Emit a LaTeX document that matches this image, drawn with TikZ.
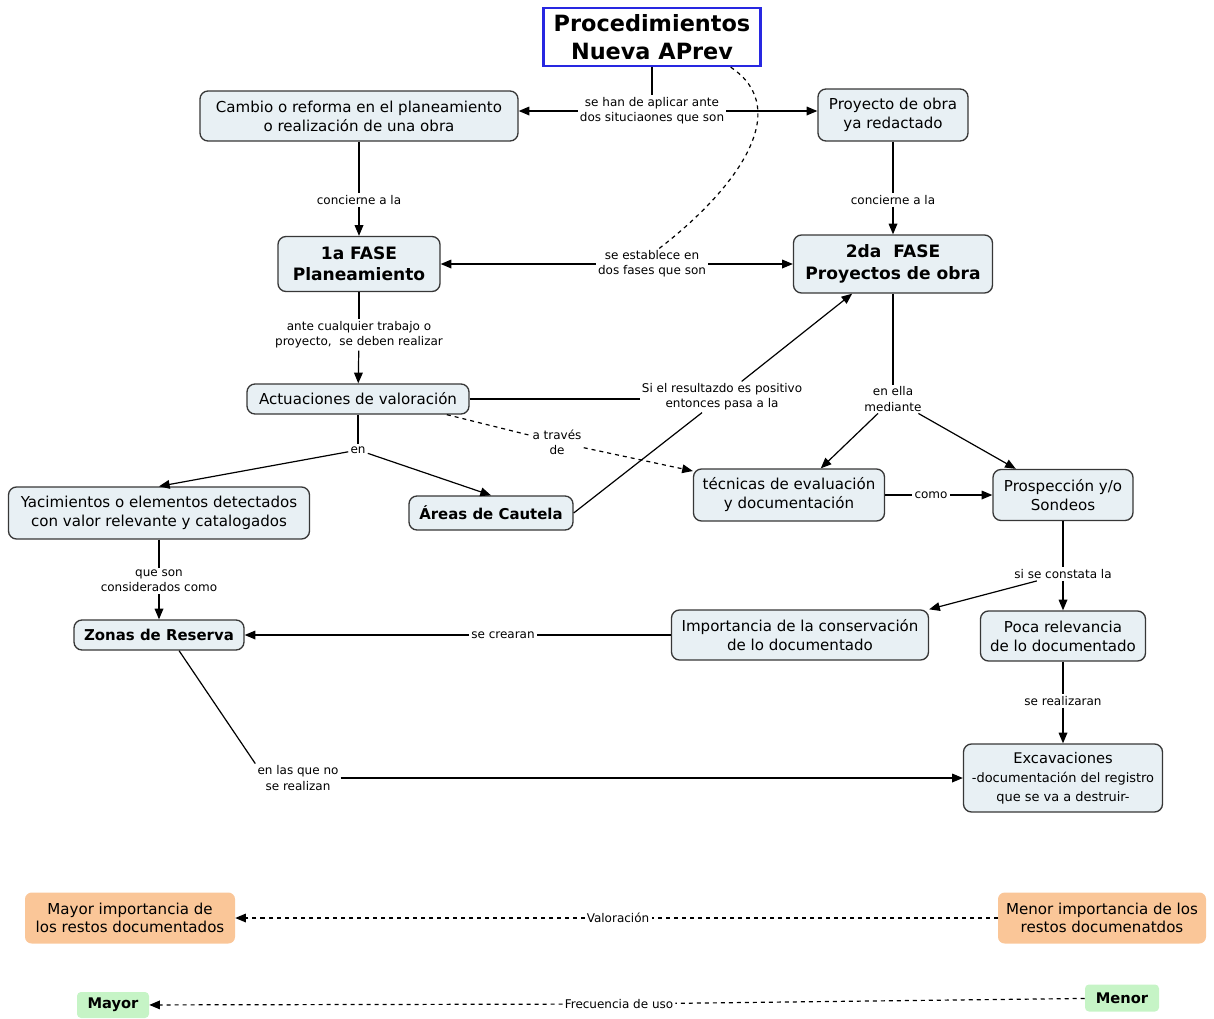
\documentclass[tikz,border=0pt]{standalone}
\usepackage{fontspec}
\setmainfont{DejaVu Sans}
\usepackage{tikz}
\usetikzlibrary{positioning,arrows.meta}

\newlength{\pxu}
\setlength{\pxu}{0.75pt}

\definecolor{conceptfill}{RGB}{232,240,244}
\definecolor{conceptline}{RGB}{55,55,55}
\definecolor{titleblue}{RGB}{40,40,225}
\definecolor{orangefill}{RGB}{250,198,152}
\definecolor{greenfill}{RGB}{198,244,198}

\tikzset{
  concept/.style={rectangle, rounded corners=6pt, draw=conceptline, line width=1pt,
    fill=conceptfill, align=center, inner sep=2pt, font=\fontsize{11.3}{14.3}\selectfont},
  keyconcept/.style={concept, font=\fontsize{12.8}{16}\selectfont\bfseries},
  boldconcept/.style={concept, font=\fontsize{11.2}{14}\selectfont\bfseries},
  linklabel/.style={align=center, inner sep=1.5pt, font=\fontsize{9}{11.3}\selectfont},
  scalebox/.style={rectangle, rounded corners=5pt, fill=orangefill, align=center,
    inner sep=2pt, font=\fontsize{11.3}{14}\selectfont},
  usebox/.style={rectangle, rounded corners=3pt, fill=greenfill, align=center,
    inner sep=2pt, font=\fontsize{11}{14}\selectfont\bfseries}
}

\begin{document}
\begin{tikzpicture}[x=0.75pt, y=-0.75pt, >={Triangle[length=8pt,width=6.5pt]},
  every edge/.append style={line width=0.9pt}]
\useasboundingbox (0,0) rectangle (1214,1018);

% main concepts
\node (title) [rectangle, draw=titleblue, line width=1.8pt, fill=white, align=center,
  minimum width=217\pxu, minimum height=58\pxu, font=\fontsize{16.8}{21.5}\selectfont\bfseries]
  at (652,37) {Procedimientos\\Nueva APrev};
\node (cambio) [concept, minimum width=318\pxu, minimum height=50\pxu] at (359,116)
  {Cambio o reforma en el planeamiento\\o realización de una obra};
\node (proyecto) [concept, minimum width=150\pxu, minimum height=52\pxu] at (893,115)
  {Proyecto de obra\\ya redactado};
\node (fase1) [keyconcept, minimum width=162\pxu, minimum height=55\pxu] at (359,264)
  {1a FASE\\Planeamiento};
\node (fase2) [keyconcept, minimum width=199\pxu, minimum height=58\pxu] at (893,264)
  {2da\ \ FASE\\Proyectos de obra};
\node (actuaciones) [concept, minimum width=222\pxu, minimum height=30\pxu] at (358,399)
  {Actuaciones de valoración};
\node (yacimientos) [concept, minimum width=301\pxu, minimum height=52\pxu] at (159,513)
  {Yacimientos o elementos detectados\\con valor relevante y catalogados};
\node (areas) [boldconcept, minimum width=164\pxu, minimum height=34\pxu] at (491,513)
  {Áreas de Cautela};
\node (tecnicas) [concept, minimum width=191\pxu, minimum height=52\pxu] at (789,495)
  {técnicas de evaluación\\y documentación};
\node (prospeccion) [concept, minimum width=140\pxu, minimum height=51\pxu] at (1063,495)
  {Prospección y/o\\Sondeos};
\node (zonas) [boldconcept, minimum width=170\pxu, minimum height=30\pxu] at (159,635)
  {Zonas de Reserva};
\node (importancia) [concept, minimum width=257\pxu, minimum height=50\pxu] at (800,635)
  {Importancia de la conservación\\de lo documentado};
\node (poca) [concept, minimum width=165\pxu, minimum height=50\pxu] at (1063,636)
  {Poca relevancia\\de lo documentado};
\node (excavaciones) [concept, minimum width=199\pxu, minimum height=68\pxu] at (1063,778)
  {{\fontsize{11}{14}\selectfont Excavaciones}\\{\fontsize{9.7}{13}\selectfont -documentación del registro}\\{\fontsize{9.7}{13}\selectfont que se va a destruir-}};

% linking phrases
\node (L1) [linklabel] at (652,111) {se han de aplicar ante\\dos situciaones que son};
\node (L2) [linklabel] at (359,200) {concierne a la};
\node (L3) [linklabel] at (893,200) {concierne a la};
\node (L4) [linklabel] at (652,264) {se establece en\\dos fases que son};
\node (L5) [linklabel] at (359,335) {ante cualquier trabajo o\\proyecto,\ \ se deben realizar};
\node (L6) [linklabel] at (722,397) {Si el resultazdo es positivo\\entonces pasa a la};
\node (L7) [linklabel] at (358,450) {en};
\node (L8) [linklabel] at (557,442) {a través\\de};
\node (L9) [linklabel] at (893,399) {en ella\\mediante};
\node (L10) [linklabel] at (931,495) {como};
\node (L11) [linklabel] at (1063,574) {si se constata la};
\node (L12) [linklabel] at (503,635) {se crearan};
\node (L13) [linklabel] at (159,581) {que son\\considerados como};
\node (L14) [linklabel] at (1063,701) {se realizaran};
\node (L15) [linklabel] at (298,778) {en las que no\\se realizan};

% connections
\path (title) edge (L1);
\path[->] (L1) edge (cambio.east |- L1);
\path[->] (L1) edge (proyecto.west |- L1);
\path (cambio) edge (L2);
\path[->] (L2) edge (fase1);
\path (proyecto) edge (L3);
\path[->] (L3) edge (fase2);
\draw[dashed, line width=0.9pt] (title.-21) .. controls (795,110) and (735,190) .. (L4.65);
\path[->] (L4) edge (fase1.east);
\path[->] (L4) edge (fase2.west);
\path (fase1) edge (L5);
\path[->] (L5) edge (actuaciones);
\path (actuaciones) edge (L6.west |- actuaciones);
\path (areas.east) edge (L6);
\path[->] (L6) edge (fase2.216);
\path (actuaciones) edge (L7);
\path[->] (L7) edge (yacimientos.north);
\path[->] (L7) edge (areas.north);
\path[dashed] (actuaciones.-10) edge (L8);
\path[->, dashed] (L8) edge (tecnicas.166);
\path (fase2) edge (L9);
\path[->] (L9) edge (tecnicas.40);
\path[->] (L9) edge (prospeccion.151);
\path (tecnicas) edge (L10);
\path[->] (L10) edge (prospeccion);
\path (prospeccion) edge (L11);
\path[->] (L11) edge (poca);
\path[->] (L11) edge (importancia.north east);
\path (importancia) edge (L12);
\path[->] (L12) edge (zonas);
\path (yacimientos) edge (L13);
\path[->] (L13) edge (zonas);
\path (poca) edge (L14);
\path[->] (L14) edge (excavaciones);
\path (zonas.-38) edge (L15.north west);
\path[->] (L15) edge (excavaciones.west);

% legend scales
\node (mayorimp) [scalebox, minimum width=210\pxu, minimum height=51\pxu] at (130,918)
  {Mayor importancia de\\los restos documentados};
\node (menorimp) [scalebox, minimum width=208\pxu, minimum height=51\pxu] at (1102,918)
  {Menor importancia de los\\restos documenatdos};
\node (L16) [linklabel] at (618,918) {Valoración};
\path[dashed] (menorimp) edge (L16);
\path[->, dashed] (L16) edge (mayorimp);

\node (mayor) [usebox, minimum width=72\pxu, minimum height=26\pxu] at (113,1005) {Mayor};
\node (menor) [usebox, minimum width=74\pxu, minimum height=27\pxu] at (1122,998) {Menor};
\node (L17) [linklabel] at (619,1004) {Frecuencia de uso};
\path[dashed] (menor) edge (L17);
\path[->, dashed] (L17) edge (mayor);
\end{tikzpicture}
\end{document}
